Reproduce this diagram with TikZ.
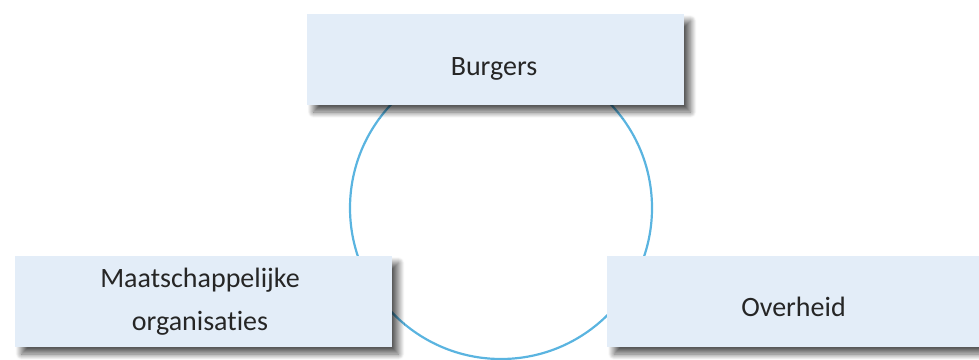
\documentclass[tikz,border=0pt]{standalone}
\usepackage{fontspec}
\setmainfont{Carlito}[Ligatures=NoCommon]
\usetikzlibrary{shadows.blur}
\definecolor{boxfill}{HTML}{E3EDF8}
\definecolor{ringblue}{HTML}{5AB4E0}
\definecolor{txt}{HTML}{262626}
\tikzset{
  actorbox/.style={fill=boxfill, draw=none, minimum width=377pt, minimum height=91pt,
    blur shadow={shadow xshift=7pt, shadow yshift=-7pt, shadow blur radius=6pt, shadow blur steps=12, shadow opacity=65}},
  lbl/.style={font=\fontsize{28}{43}\selectfont, text=txt, align=center, inner sep=0pt}
}
\begin{document}
\begin{tikzpicture}[x=1pt,y=-1pt]
\useasboundingbox (0,0) rectangle (979,359);
\coordinate (c) at (501,208);
\draw[ringblue, line width=2.2pt] (c) circle[radius=151pt];
\node[actorbox] (burgers) at (495,59.5) {};
\node[actorbox] (maatsch) at (203,301.5) {};
\node[actorbox] (overheid) at (795.5,301.5) {};
\node[lbl, anchor=base] (tb) at (494,75) {Burgers};
\node[lbl, anchor=base] (to) at (793.5,316) {Overheid};
\node[lbl, anchor=base] (tm1) at (200,287) {Maatschappelijke};
\node[lbl, anchor=base] (tm2) at (200,330) {organisaties};
\end{tikzpicture}
\end{document}
